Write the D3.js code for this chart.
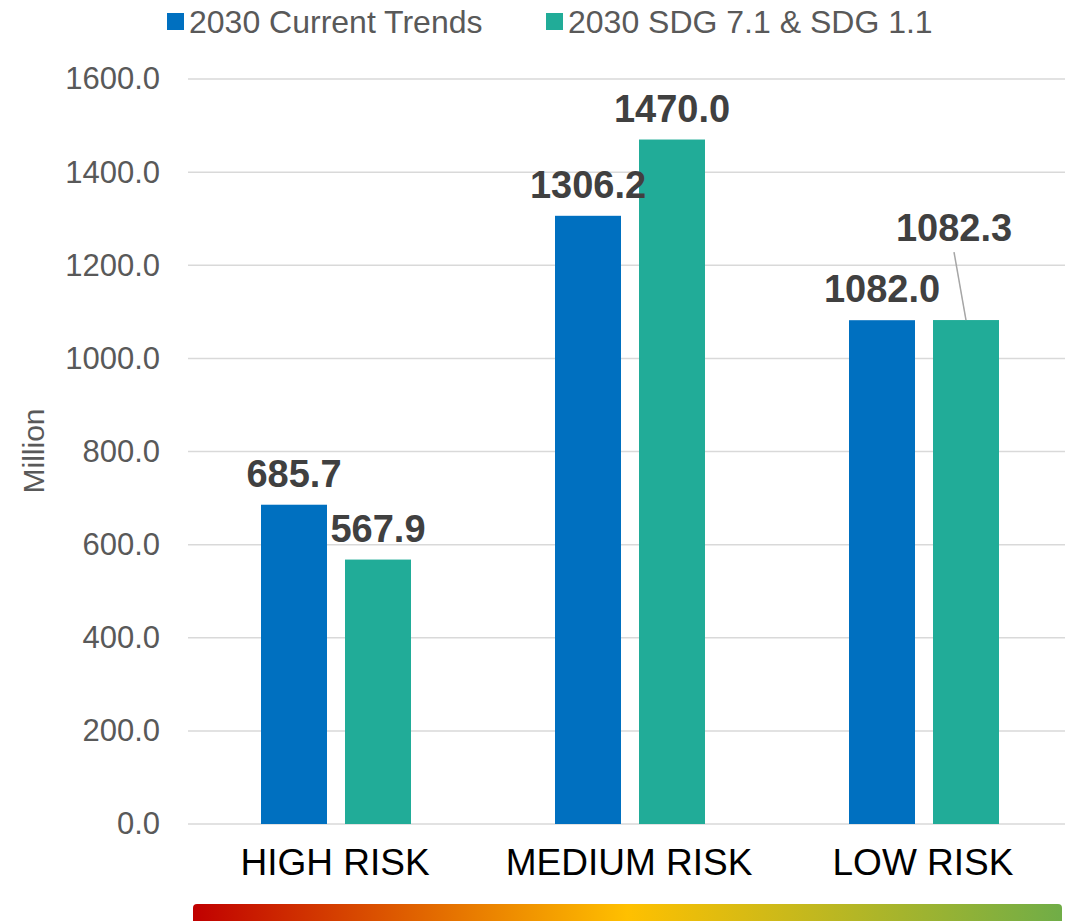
<!DOCTYPE html>
<html>
<head>
<meta charset="utf-8">
<script src="https://cdn.jsdelivr.net/npm/d3@7"></script>
<style>
body { margin: 0; background: #fff; }
svg text { font-family: "Liberation Sans", Arial, sans-serif; }
</style>
</head>
<body>
<div id="main"></div>
<script>
// data
var categories = ["HIGH RISK", "MEDIUM RISK", "LOW RISK"];
var seriesNames = ["2030 Current Trends", "2030 SDG 7.1 & SDG 1.1"];
var currentTrends = [685.7, 1306.2, 1082.0];
var sdgScenario = [567.9, 1470.0, 1082.3];
var yTicks = [0, 200, 400, 600, 800, 1000, 1200, 1400, 1600];
var colors = ["#0070C0", "#21AC98"];

var w = 1068,
	h = 921;

var margin = {left: 188, right: 3, top: 79, bottom: 97};

var svg = d3.select("#main")
	.append("svg")
	.attr("width", w)
	.attr("height", h);

var x0 = d3.scaleBand()
	.domain(categories)
	.range([margin.left, margin.left + 3 * 294]);

// bars sit in the middle of each band, with a gap between them
var x1 = d3.scaleBand()
	.domain(seriesNames)
	.range([73, 223])
	.paddingInner(18 / 84);

var y = d3.scaleLinear()
	.domain([0, 1600])
	.range([h - margin.bottom, margin.top]);

// gridlines
svg.append("g")
	.selectAll("line")
	.data(yTicks)
	.enter()
	.append("line")
	.attr("x1", margin.left)
	.attr("x2", w - margin.right)
	.attr("y1", function(d) { return y(d); })
	.attr("y2", function(d) { return y(d); })
	.attr("stroke", "#D9D9D9")
	.attr("stroke-width", 1.5);

// y axis labels
var yAxis = d3.axisLeft(y)
	.tickValues(yTicks)
	.tickFormat(d3.format(".1f"))
	.tickSize(0)
	.tickPadding(28);

svg.append("g")
	.attr("transform", "translate(" + margin.left + ",0)")
	.call(yAxis)
	.call(function(g) { g.select(".domain").remove(); })
	.selectAll("text")
	.attr("font-size", 31)
	.attr("fill", "#595959")
	.style("font-family", "Liberation Sans, Arial, sans-serif");

// x axis labels
var xAxis = d3.axisBottom(x0)
	.tickSize(0)
	.tickPadding(25);

svg.append("g")
	.attr("transform", "translate(0," + y(0) + ")")
	.call(xAxis)
	.call(function(g) { g.select(".domain").remove(); })
	.selectAll("text")
	.attr("font-size", 37)
	.attr("fill", "#000")
	.style("font-family", "Liberation Sans, Arial, sans-serif");

// axis title
svg.append("text")
	.attr("transform", "translate(44," + 451 + ") rotate(-90)")
	.attr("text-anchor", "middle")
	.attr("font-size", 30)
	.attr("fill", "#595959")
	.text("Million");

// bars
var rows = categories.map(function(c, i) {
	return [
		{cat: c, s: seriesNames[0], v: currentTrends[i], k: 0},
		{cat: c, s: seriesNames[1], v: sdgScenario[i], k: 1}
	];
});

var groups = svg.selectAll(".grp")
	.data(rows)
	.enter()
	.append("g")
	.attr("class", "grp")
	.attr("transform", function(d) { return "translate(" + x0(d[0].cat) + ",0)"; });

groups.selectAll("rect")
	.data(function(d) { return d; })
	.enter()
	.append("rect")
	.attr("x", function(d) { return x1(d.s); })
	.attr("width", x1.bandwidth())
	.attr("y", function(d) { return y(d.v); })
	.attr("height", function(d) { return y(0) - y(d.v); })
	.attr("fill", function(d) { return colors[d.k]; });

// data labels
groups.selectAll(".lbl")
	.data(function(d) { return d; })
	.enter()
	.append("text")
	.attr("class", "lbl")
	.attr("x", function(d) {
		var cx = x1(d.s) + x1.bandwidth() / 2;
		if (d.cat == "LOW RISK" && d.k == 1) cx -= 12;
		return cx;
	})
	.attr("y", function(d) {
		if (d.cat == "LOW RISK" && d.k == 1) return y(d.v) - 79;
		return y(d.v) - 18;
	})
	.attr("text-anchor", "middle")
	.attr("font-size", 38)
	.attr("font-weight", "bold")
	.attr("fill", "#404040")
	.text(function(d) { return d3.format(".1f")(d.v); });

// leader line for the moved label
var lowX = x0("LOW RISK") + x1(seriesNames[1]) + x1.bandwidth() / 2;
svg.append("line")
	.attr("x1", lowX - 12)
	.attr("y1", y(sdgScenario[2]) - 68)
	.attr("x2", lowX)
	.attr("y2", y(sdgScenario[2]))
	.attr("stroke", "#A6A6A6")
	.attr("stroke-width", 1.5);

// legend
var legendX = [167, 546];
var legend = svg.selectAll(".leg")
	.data(seriesNames)
	.enter()
	.append("g")
	.attr("class", "leg")
	.attr("transform", function(d, i) { return "translate(" + legendX[i] + ",13)"; });

legend.append("rect")
	.attr("width", 17)
	.attr("height", 17)
	.attr("fill", function(d, i) { return colors[i]; });

legend.append("text")
	.attr("x", 22)
	.attr("y", 20)
	.attr("font-size", 32)
	.attr("fill", "#595959")
	.text(function(d) { return d; });

// risk gradient bar
var grad = svg.append("defs")
	.append("linearGradient")
	.attr("id", "riskGrad");

grad.selectAll("stop")
	.data([["0%", "#C00000"], ["50%", "#FFC000"], ["100%", "#70AD47"]])
	.enter()
	.append("stop")
	.attr("offset", function(d) { return d[0]; })
	.attr("stop-color", function(d) { return d[1]; });

svg.append("rect")
	.attr("x", 193)
	.attr("y", 904)
	.attr("width", 869)
	.attr("height", 22)
	.attr("rx", 4)
	.attr("fill", "url(#riskGrad)");
</script>
</body>
</html>
